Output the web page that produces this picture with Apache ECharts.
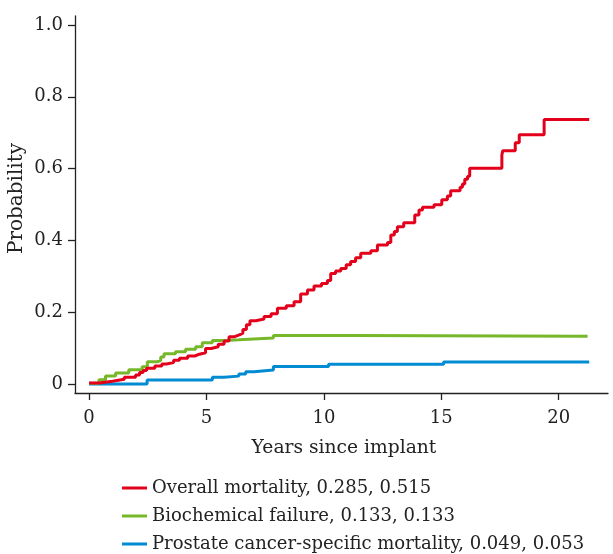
<!DOCTYPE html>
<html>
<head>
<meta charset="utf-8">
<script src="https://cdn.jsdelivr.net/npm/echarts@6/dist/echarts.min.js"></script>
<style>
html,body{margin:0;padding:0;background:#fff;}
#chart{width:613px;height:554px;}
</style>
</head>
<body>
<div id="chart"></div>
<script>
var FONT = '"DejaVu Serif", "Liberation Serif", serif';

var seriesNames = [
  'Overall mortality, 0.285, 0.515',
  'Biochemical failure, 0.133, 0.133',
  'Prostate cancer-specific mortality, 0.049, 0.053'
];

var xTicks = [0, 5, 10, 15, 20];
var yTicks = [0, 0.2, 0.4, 0.6, 0.8, 1.0];

// [years, cumulative probability]
var overallMortality = [
  [0,0.003],[0.42,0.008],[1.0,0.013],[1.5,0.019],[1.98,0.025],
  [2.15,0.032],[2.3,0.038],[2.45,0.044],[2.8,0.050],[3.1,0.056],[3.3,0.060],[3.6,0.066],
  [3.85,0.072],[4.2,0.078],[4.5,0.083],[4.7,0.087],[4.96,0.099],[5.2,0.104],[5.5,0.111],
  [5.75,0.120],[5.96,0.132],[6.2,0.137],[6.4,0.142],[6.55,0.152],[6.7,0.165],[6.85,0.176],
  [7.1,0.181],[7.45,0.188],[7.75,0.196],[8.02,0.211],[8.4,0.218],[8.73,0.229],[9.01,0.251],
  [9.3,0.262],[9.58,0.273],[9.9,0.280],[10.15,0.288],[10.29,0.308],[10.5,0.315],[10.72,0.322],
  [10.95,0.332],[11.14,0.341],[11.35,0.352],[11.57,0.364],[12.0,0.371],[12.28,0.387],
  [12.71,0.394],[12.85,0.415],[13.0,0.425],[13.13,0.438],[13.4,0.449],[13.87,0.471],
  [14.05,0.485],[14.2,0.492],[14.69,0.499],[15.02,0.513],[15.26,0.524],[15.4,0.538],
  [15.8,0.548],[15.9,0.557],[16.0,0.570],[16.12,0.579],[16.21,0.601],[17.58,0.638],
  [17.62,0.650],[18.15,0.672],[18.32,0.694],[19.38,0.737],[21.3,0.737]
];

var biochemicalFailure = [
  [0,0.002],[0.42,0.012],[0.7,0.022],[1.13,0.031],[1.69,0.040],[2.26,0.048],[2.48,0.062],
  [2.9,0.065],[3.05,0.075],[3.19,0.084],
  [3.68,0.090],[4.11,0.097],[4.54,0.104],[4.82,0.115],[5.25,0.121],[5.81,0.123],[6.38,0.125],
  [6.8,0.128],[7.85,0.135],[11.21,0.133],[21.23,0.133]
];

var pcsMortality = [
  [0,0.0],[2.47,0.011],[5.25,0.019],[5.74,0.022],[6.38,0.028],[6.67,0.034],[7.02,0.039],
  [7.85,0.049],[10.2,0.055],[15.1,0.061],[21.3,0.061]
];

var colors = ['#E3001B', '#76B82A', '#008BD2'];
var datasets = [overallMortality, biochemicalFailure, pcsMortality];

var chart = echarts.init(document.getElementById('chart'), null, {renderer: 'canvas'});

var axisColor = '#222';

var option = {
  animation: false,
  backgroundColor: '#fff',
  grid: {left: 75, right: 5, top: 16, bottom: 161, containLabel: false},
  xAxis: {
    type: 'value',
    min: -0.6, max: 22.1,
    splitLine: {show: false},
    axisLine: {show: true, onZero: false, lineStyle: {color: axisColor, width: 1.3}},
    axisTick: {show: true, length: 7, customValues: xTicks, lineStyle: {color: axisColor, width: 1.3}},
    axisLabel: {customValues: xTicks, margin: 16, color: '#222', fontFamily: FONT, fontSize: 18},
  },
  yAxis: {
    type: 'value',
    min: -0.025, max: 1.025,
    splitLine: {show: false},
    axisLine: {show: true, onZero: false, lineStyle: {color: axisColor, width: 1.3}},
    axisTick: {show: true, length: 7, customValues: yTicks, lineStyle: {color: axisColor, width: 1.3}},
    axisLabel: {customValues: yTicks, margin: 12, color: '#222', fontFamily: FONT, fontSize: 18,
      formatter: function (v) { return v === 0 ? '0' : v.toFixed(1); }}
  },
  legend: {
    orient: 'vertical',
    left: 122, top: 479,
    padding: 0,
    itemWidth: 25, itemHeight: 3, itemGap: 10,
    icon: 'rect',
    textStyle: {fontFamily: FONT, fontSize: 18, color: '#222', lineHeight: 18, padding: 0},
    data: seriesNames
  },
  graphic: [
    {type: 'text', x: 344, y: 448,
      style: {text: 'Years since implant', font: '18.7px ' + FONT, fill: '#222', align: 'center', verticalAlign: 'middle'}},
    {type: 'text', x: 7, y: 198.5, rotation: Math.PI / 2,
      style: {text: 'Probability', font: '20px ' + FONT, fill: '#222', align: 'center', verticalAlign: 'top'}}
  ],
  series: datasets.map(function (d, i) {
    return {
      name: seriesNames[i],
      type: 'line',
      step: 'end',
      data: d,
      showSymbol: false,
      symbol: 'none',
      color: colors[i],
      lineStyle: {color: colors[i], width: 3},
      z: 3 - i
    };
  })
};
chart.setOption(option);
</script>
</body>
</html>
